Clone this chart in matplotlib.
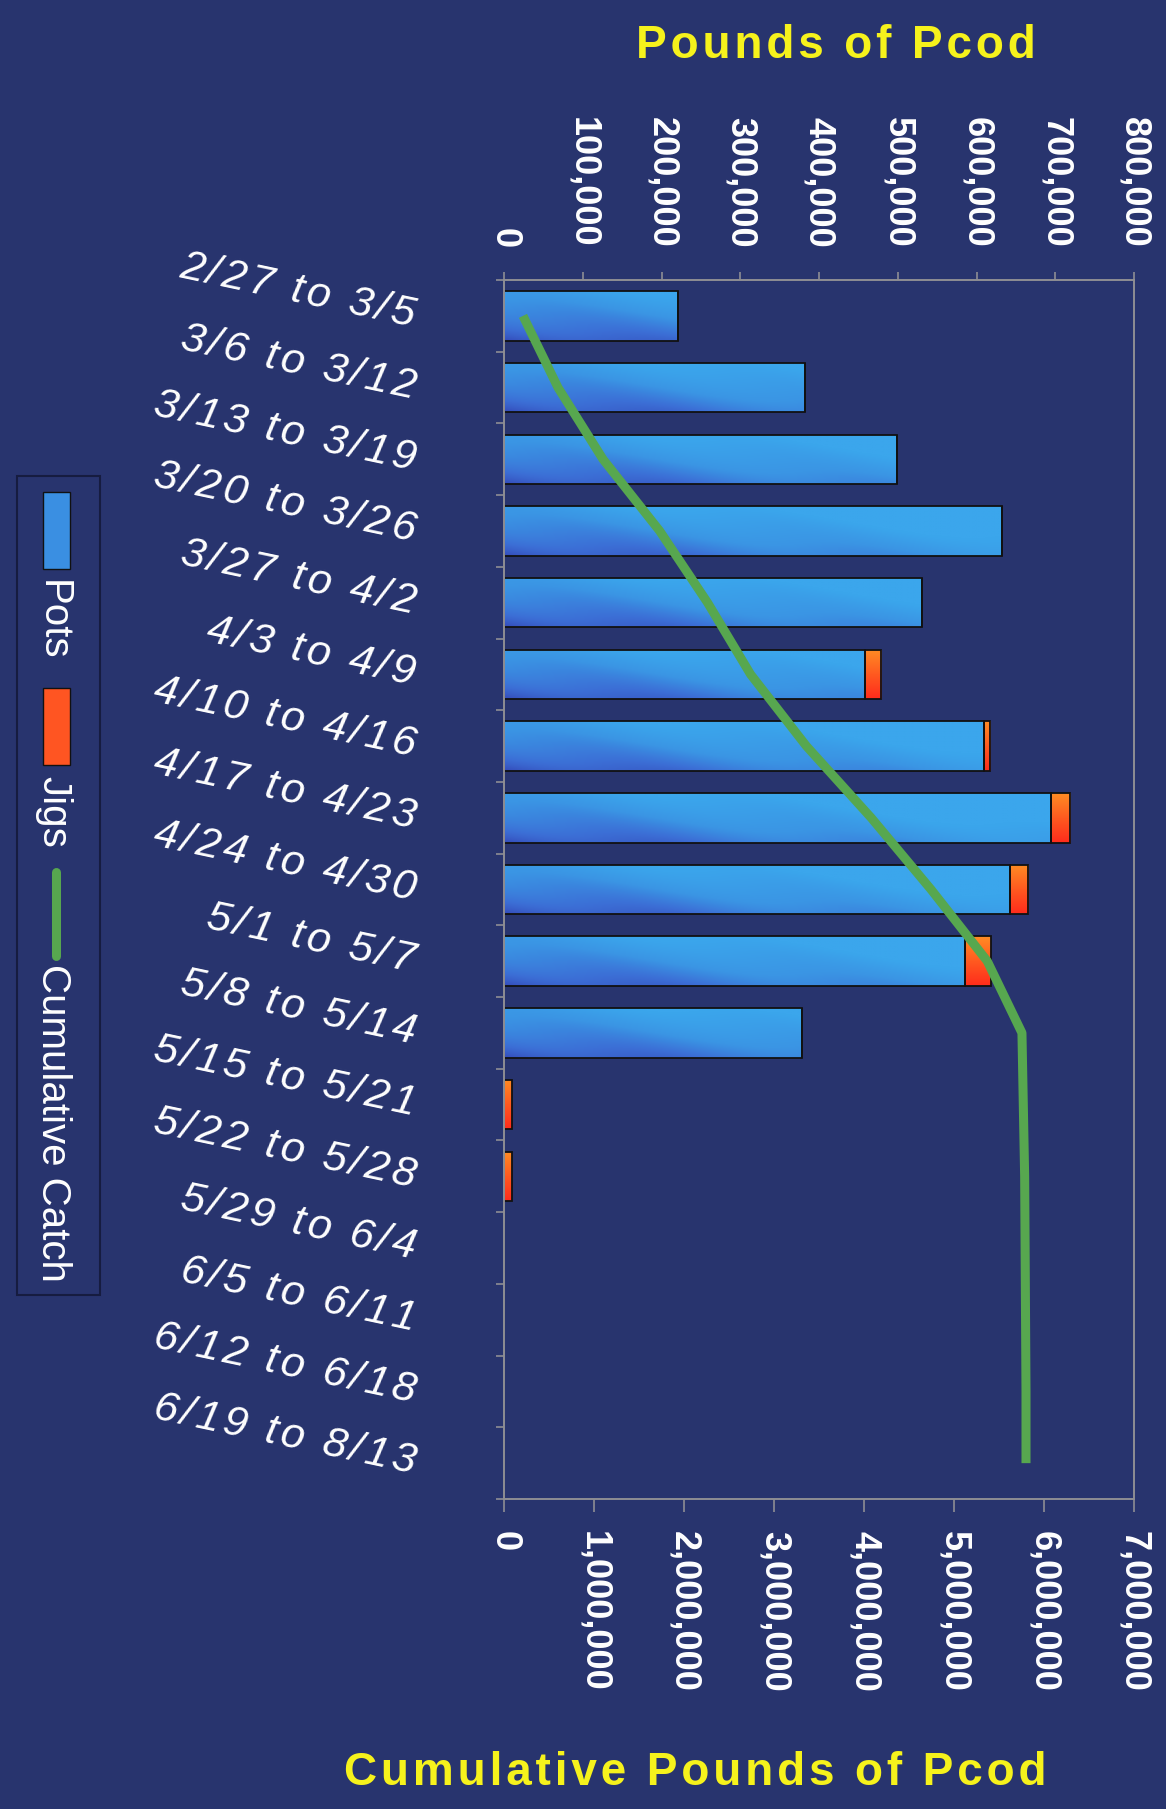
import numpy as np
import matplotlib
matplotlib.use("Agg")
import matplotlib.pyplot as plt
from matplotlib.ticker import FuncFormatter, FixedLocator
from matplotlib.colors import LinearSegmentedColormap
from matplotlib.patches import Rectangle
from matplotlib.lines import Line2D

# ---------------- data ----------------
categories = ["2/27 to 3/5", "3/6 to 3/12", "3/13 to 3/19", "3/20 to 3/26",
              "3/27 to 4/2", "4/3 to 4/9", "4/10 to 4/16", "4/17 to 4/23",
              "4/24 to 4/30", "5/1 to 5/7", "5/8 to 5/14", "5/15 to 5/21",
              "5/22 to 5/28", "5/29 to 6/4", "6/5 to 6/11", "6/12 to 6/18",
              "6/19 to 8/13"]
pots = [221000, 382000, 499000, 632000, 531000, 458000, 609000, 694000,
        642000, 586000, 379000, 0, 0, 0, 0, 0, 0]
jigs = [0, 0, 0, 0, 0, 21000, 8000, 25000, 24000, 32000, 0, 10000, 10000,
        0, 0, 0, 0]
cumulative = [211000, 600000, 1100000, 1730000, 2262000, 2740000, 3360000,
              4080000, 4745000, 5370000, 5755000, 5770000, 5785000, 5790000,
              5795000, 5800000, 5800000]
pounds_ticks = [0, 100000, 200000, 300000, 400000, 500000, 600000, 700000, 800000]
cum_ticks = [0, 1000000, 2000000, 3000000, 4000000, 5000000, 6000000, 7000000]
series_names = ["Pots", "Jigs", "Cumulative Catch"]
title_top = "Pounds of Pcod"
title_bottom = "Cumulative Pounds of Pcod"

# ---------------- style ----------------
W, H = 1166, 1809
BG = "#28346e"
FRAME = "#8e8e94"
GREEN = "#57a74f"
YELLOW = "#f6f21c"
SANS = ["Liberation Sans", "DejaVu Sans"]


def spaced(s):
    return "\u200a".join(s)


fig = plt.figure(figsize=(W / 100, H / 100), dpi=100, facecolor=BG)

L, R, T, B = 504, 1134, 280, 1499
ax = fig.add_axes([L / W, 1 - B / H, (R - L) / W, (B - T) / H])
ax.set_facecolor(BG)

n = len(categories)
ypos = np.arange(n)
bar_h = 0.69

pots_cmap = LinearSegmentedColormap.from_list(
    "pots", ["#3449b8", "#3c6fd6", "#3a95e4", "#3ba6ec"])
jigs_cmap = LinearSegmentedColormap.from_list(
    "jigs", ["#ff2c1c", "#ff5a20", "#ff8c24"])

pots_bars = ax.barh(ypos, pots, height=bar_h, facecolor="none",
                    edgecolor="#111111", linewidth=1.3, zorder=2)
jigs_bars = ax.barh(ypos, jigs, left=pots, height=bar_h, facecolor="none",
                    edgecolor="#111111", linewidth=1.3, zorder=2)

xmax = pounds_ticks[-1]


def gradient_fill(patch, cmap, kind):
    x0, y0 = patch.get_x(), patch.get_y()
    w, h = patch.get_width(), patch.get_height()
    if w <= 0:
        return
    ny, nx = 60, 300
    v = np.linspace(0, 1, ny)[:, None]          # 0 = visual bottom, 1 = top
    xs = np.linspace(x0, x0 + w, nx)[None, :] / xmax
    if kind == "pots":
        t = 0.75 * v + 0.9 * xs + 0.08 * np.sin(xs * 18 + v * 4)
        t = np.clip(t, 0, 1) ** 0.8
    else:
        t = np.repeat(v, nx, axis=1)
    im = ax.imshow(t, extent=(x0, x0 + w, y0 + h, y0), origin="lower",
                   cmap=cmap, vmin=0, vmax=1, aspect="auto", zorder=1.5,
                   interpolation="bilinear")
    im.set_clip_path(patch)


for p in pots_bars:
    gradient_fill(p, pots_cmap, "pots")
for p in jigs_bars:
    gradient_fill(p, jigs_cmap, "jigs")

ax.set_xlim(0, xmax)
ax.set_ylim(n - 0.5, -0.5)

# bottom axis : cumulative (twin)
ax2 = ax.twiny()
ax2.set_xlim(0, cum_ticks[-1])
ax2.plot(cumulative, ypos, color=GREEN, linewidth=6.5,
         solid_joinstyle="round", solid_capstyle="butt", zorder=3)
ax2.set_ylim(n - 0.5, -0.5)

# top axis : pounds (set after twiny, which resets positions)
ax.xaxis.set_ticks_position("top")
ax.xaxis.set_label_position("top")
ax.xaxis.set_major_locator(FixedLocator(pounds_ticks))
ax.xaxis.set_major_formatter(FuncFormatter(lambda v, p: f"{v:,.0f}"))
ax.tick_params(axis="x", which="major", direction="out", length=6,
               width=1.2, color=FRAME, pad=17, labelrotation=-90,
               labelsize=26, labelcolor="white", top=True, bottom=False,
               labeltop=True, labelbottom=False)
for lab in ax.get_xticklabels():
    lab.set_fontfamily(SANS)
    lab.set_fontweight("bold")

ax2.xaxis.set_ticks_position("bottom")
ax2.xaxis.set_label_position("bottom")
ax2.xaxis.set_major_locator(FixedLocator(cum_ticks))
ax2.xaxis.set_major_formatter(FuncFormatter(lambda v, p: f"{v:,.0f}"))
ax2.tick_params(axis="x", which="major", direction="out", length=9,
                width=1.2, color=FRAME, pad=14, labelrotation=-90,
                labelsize=26, labelcolor="white", top=False, bottom=True,
                labeltop=False, labelbottom=True)
for lab in ax2.get_xticklabels():
    lab.set_fontfamily(SANS)
    lab.set_fontweight("bold")
for s in ax2.spines.values():
    s.set_visible(False)

# left axis : categories
ax.set_yticks(ypos)
ax.set_yticklabels([spaced(c) for c in categories])
ax.yaxis.set_minor_locator(FixedLocator(np.arange(-0.5, n, 1.0)))
ax.tick_params(axis="y", which="major", length=0, pad=64)
ax.tick_params(axis="y", which="minor", direction="out", length=6,
               width=1.2, color=FRAME)
for lab in ax.get_yticklabels():
    lab.set_fontfamily(SANS)
    lab.set_fontsize(31)
    lab.set_fontstyle("italic")
    lab.set_color("white")
    lab.set_rotation(-12)
    lab.set_rotation_mode("anchor")
    lab.set_horizontalalignment("right")
    lab.set_verticalalignment("center")

for s in ax.spines.values():
    s.set_color(FRAME)
    s.set_linewidth(1.4)

# titles
fig.text(836 / W, 1 - 46 / H, spaced(title_top), color=YELLOW,
         fontsize=33, fontweight="bold", family=SANS,
         ha="center", va="center")
fig.text(695 / W, 1 - 1773 / H, spaced(title_bottom), color=YELLOW,
         fontsize=33, fontweight="bold", family=SANS,
         ha="center", va="center")

# legend (vertical, rotated)
fig.patches.append(Rectangle((17 / W, 1 - 1295 / H), 83 / W, 819 / H,
                             transform=fig.transFigure, facecolor=BG,
                             edgecolor="#161c40", linewidth=1.5))
fig.patches.append(Rectangle((43 / W, 1 - 569 / H), 27 / W, 77 / H,
                             transform=fig.transFigure, facecolor="#3a8fe2",
                             edgecolor="#111111", linewidth=1.0))
fig.patches.append(Rectangle((43 / W, 1 - 765 / H), 27 / W, 77 / H,
                             transform=fig.transFigure, facecolor="#ff5522",
                             edgecolor="#111111", linewidth=1.0))
fig.lines.append(Line2D([56 / W, 56 / W], [1 - 872 / H, 1 - 956 / H],
                        transform=fig.transFigure, color=GREEN,
                        linewidth=6.5, solid_capstyle="round"))
for name, yc in zip(series_names, [620, 812, 1123]):
    fig.text(53 / W, 1 - yc / H, name, color="white", fontsize=29,
             family=SANS, rotation=-90, ha="center", va="center")

fig.savefig("out.png", dpi=100, facecolor=BG)
